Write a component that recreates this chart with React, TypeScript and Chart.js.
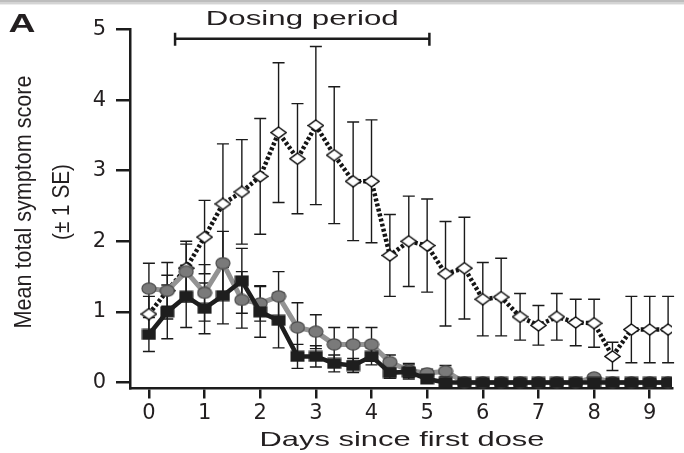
import React, { useEffect, useRef } from 'react';
import { Chart, registerables } from 'chart.js';

Chart.register(...registerables);

// ---- data ----
const days = [0, 0.33, 0.67, 1, 1.33, 1.67, 2, 2.33, 2.67, 3, 3.33, 3.67, 4, 4.33, 4.67, 5, 5.33, 5.67, 6, 6.33, 6.67, 7, 7.33, 7.67, 8, 8.33, 8.67, 9, 9.33];

const openDiamondMean = [0.97, 1.3, 1.62, 2.06, 2.53, 2.7, 2.92, 3.54, 3.17, 3.64, 3.22, 2.85, 2.85, 1.8, 2.0, 1.94, 1.54, 1.62, 1.18, 1.21, 0.93, 0.81, 0.93, 0.85, 0.84, 0.37, 0.75, 0.75, 0.75];
const openDiamondSE = [0.25, 0.22, 0.34, 0.52, 0.85, 0.74, 0.82, 0.99, 0.78, 1.12, 0.97, 0.84, 0.87, 0.58, 0.64, 0.66, 0.74, 0.72, 0.52, 0.55, 0.33, 0.28, 0.33, 0.33, 0.34, 0.2, 0.47, 0.47, 0.47];

const grayCircleMean = [1.33, 1.3, 1.57, 1.27, 1.69, 1.17, 1.12, 1.22, 0.78, 0.72, 0.54, 0.54, 0.54, 0.29, 0.17, 0.13, 0.16, 0, 0, 0, 0, 0, 0, 0, 0.07, 0, 0, 0, 0];
const grayCircleSE = [0.36, 0.4, 0.43, 0.4, 0.45, 0.4, 0.25, 0.35, 0.35, 0.24, 0.24, 0.24, 0.24, 0.1, 0.1, 0.06, 0.08, 0, 0, 0, 0, 0, 0, 0, 0.04, 0, 0, 0, 0];

const blackSquareMean = [0.68, 1.0, 1.22, 1.05, 1.23, 1.44, 1.0, 0.88, 0.37, 0.37, 0.27, 0.24, 0.37, 0.14, 0.15, 0.05, 0, 0, 0, 0, 0, 0, 0, 0, 0, 0, 0, 0, 0];
const blackSquareSE = [0.24, 0.38, 0.44, 0.36, 0.4, 0.46, 0.36, 0.39, 0.17, 0.15, 0.12, 0.1, 0.12, 0.08, 0.1, 0.04, 0, 0, 0, 0, 0, 0, 0, 0, 0, 0, 0, 0, 0];

const xTickValues = [0, 1, 2, 3, 4, 5, 6, 7, 8, 9];
const yTickValues = [0, 1, 2, 3, 4, 5];

const dosingPeriod = [0.47, 5.04];
const dosingLevel = 4.87;

const panelLabel = 'A';
const dosingLabel = 'Dosing period';
const xTitle = 'Days since first dose';
const yTitleLines = ['Mean total symptom score', '(± 1 SE)'];

// ---- styles ----
const INK = '#231f20';
const AXIS = '#1c1c1c';
const W = 684;
const H = 453;

function makeMarker(kind: string): HTMLCanvasElement {
  const c = document.createElement('canvas');
  if (kind === 'diamond') {
    c.width = 17; c.height = 13;
    const g = c.getContext('2d')!;
    g.beginPath();
    g.moveTo(8.5, 1); g.lineTo(16, 6.5); g.lineTo(8.5, 12); g.lineTo(1, 6.5); g.closePath();
    g.fillStyle = '#ffffff'; g.fill();
    g.lineWidth = 1.5; g.strokeStyle = '#111111'; g.stroke();
  } else if (kind === 'circle') {
    c.width = 16; c.height = 13;
    const g = c.getContext('2d')!;
    g.beginPath();
    g.ellipse(8, 6.5, 7, 5.6, 0, 0, Math.PI * 2);
    g.fillStyle = '#7a7a7a'; g.fill();
    g.lineWidth = 1.2; g.strokeStyle = '#4a4a4a'; g.stroke();
  } else {
    c.width = 15; c.height = 12;
    const g = c.getContext('2d')!;
    g.fillStyle = '#1e1e1e';
    g.fillRect(0.5, 0.5, 14, 11);
  }
  return c;
}

function fitText(ctx: CanvasRenderingContext2D, text: string, cx: number, cy: number, font: string, targetW: number, rotate = false) {
  ctx.save();
  ctx.font = font;
  ctx.fillStyle = INK;
  ctx.textAlign = 'center';
  ctx.textBaseline = 'middle';
  const w = ctx.measureText(text).width;
  const s = targetW / w;
  ctx.translate(cx, cy);
  if (rotate) ctx.rotate(-Math.PI / 2);
  ctx.scale(s, 1);
  ctx.fillText(text, 0, 0);
  ctx.restore();
}

const errorBarPlugin = {
  id: 'errorBars',
  beforeDatasetsDraw(chart: any) {
    const { ctx } = chart;
    const xs = chart.scales.x;
    const ys = chart.scales.y;
    ctx.save();
    ctx.strokeStyle = '#1a1a1a';
    ctx.lineWidth = 1.4;
    chart.data.datasets.forEach((ds: any) => {
      const se: number[] = ds.errors || [];
      ds.data.forEach((p: any, i: number) => {
        const e = se[i];
        if (!e) return;
        const px = xs.getPixelForValue(p.x);
        const top = ys.getPixelForValue(p.y + e);
        const bot = ys.getPixelForValue(p.y - e);
        const cap = 6;
        ctx.beginPath();
        ctx.moveTo(px, top); ctx.lineTo(px, bot);
        ctx.moveTo(px - cap, top); ctx.lineTo(px + cap, top);
        ctx.moveTo(px - cap, bot); ctx.lineTo(px + cap, bot);
        ctx.stroke();
      });
    });
    ctx.restore();
  },
};

const decorPlugin = {
  id: 'decor',
  beforeDraw(chart: any) {
    const { ctx } = chart;
    ctx.save();
    ctx.fillStyle = '#ffffff';
    ctx.fillRect(0, 0, W, H);
    ctx.fillStyle = '#bdbdbd';
    ctx.fillRect(0, 0, W, 2);
    ctx.fillStyle = '#d4d4d4';
    ctx.fillRect(0, 2, W, 2);
    ctx.fillStyle = '#ececec';
    ctx.fillRect(0, 4, W, 1);
    ctx.restore();
  },
  afterDraw(chart: any) {
    const { ctx } = chart;
    const xs = chart.scales.x;
    const ys = chart.scales.y;
    // panel label
    fitText(ctx, panelLabel, 22, 25, 'bold 25px "Liberation Sans", Arial, sans-serif', 27);
    // dosing bracket
    const x0 = xs.getPixelForValue(dosingPeriod[0]);
    const x1 = xs.getPixelForValue(dosingPeriod[1]);
    const yb = ys.getPixelForValue(dosingLevel);
    ctx.save();
    ctx.strokeStyle = AXIS;
    ctx.lineWidth = 2.5;
    ctx.beginPath();
    ctx.moveTo(x0, yb); ctx.lineTo(x1, yb);
    ctx.moveTo(x0, yb - 6); ctx.lineTo(x0, yb + 7);
    ctx.moveTo(x1, yb - 6); ctx.lineTo(x1, yb + 7);
    ctx.stroke();
    ctx.restore();
    fitText(ctx, dosingLabel, (x0 + x1) / 2, yb - 19, '21px "Liberation Sans", Arial, sans-serif', 193);
    // x title
    const area = chart.chartArea;
    fitText(ctx, xTitle, 402, area.bottom + 52, '21px "Liberation Sans", Arial, sans-serif', 285);
    // y title
    const cy = 202;
    fitText(ctx, yTitleLines[0], 24, cy, '24px "Liberation Sans", Arial, sans-serif', 253, true);
    fitText(ctx, yTitleLines[1], 62, cy, '24px "Liberation Sans", Arial, sans-serif', 76, true);
  },
};

export default function App() {
  const ref = useRef<HTMLCanvasElement | null>(null);

  useEffect(() => {
    if (!ref.current) return;
    const diamond = makeMarker('diamond');
    const circle = makeMarker('circle');
    const square = makeMarker('square');
    const pts = (vals: number[]) => days.map((d, i) => ({ x: d, y: vals[i] }));

    const tickFont = { family: '"DejaVu Sans", sans-serif', size: 21 };

    const chart = new Chart(ref.current, {
      type: 'line',
      data: {
        datasets: [
          {
            label: 'black squares',
            data: pts(blackSquareMean),
            errors: blackSquareSE,
            order: 0,
            borderColor: '#1e1e1e',
            borderWidth: 4.5,
            pointStyle: square,
            pointRadius: 7,
            tension: 0,
          } as any,
          {
            label: 'gray circles',
            data: pts(grayCircleMean),
            errors: grayCircleSE,
            order: 1,
            borderColor: '#939393',
            borderWidth: 5,
            pointStyle: circle,
            pointRadius: 7,
            tension: 0,
          } as any,
          {
            label: 'open diamonds',
            data: pts(openDiamondMean),
            errors: openDiamondSE,
            order: 2,
            borderColor: '#151515',
            borderWidth: 4.5,
            borderDash: [3, 2.2],
            borderCapStyle: 'butt',
            pointStyle: diamond,
            pointRadius: 7,
            tension: 0,
          } as any,
        ],
      },
      options: {
        animation: false,
        responsive: false,
        devicePixelRatio: 1,
        events: [],
        layout: { padding: { top: 29.5, right: 12, left: 0, bottom: 0 } },
        plugins: {
          legend: { display: false },
          tooltip: { enabled: false },
          title: { display: false },
        },
        scales: {
          x: {
            type: 'linear',
            min: -0.34,
            max: 9.4,
            afterBuildTicks: (s: any) => { s.ticks = xTickValues.map((v) => ({ value: v })); },
            afterFit: (s: any) => { s.height = 64.5; },
            grid: { display: true, drawOnChartArea: false, drawTicks: true, tickLength: 10, color: AXIS, lineWidth: 2.5 },
            border: { display: true, color: AXIS, width: 2.5 },
            ticks: { color: INK, font: tickFont, padding: 2, autoSkip: false, maxRotation: 0, callback: (v: any) => String(v) },
          },
          y: {
            type: 'linear',
            min: -0.085,
            max: 5,
            afterBuildTicks: (s: any) => { s.ticks = yTickValues.map((v) => ({ value: v })); },
            afterFit: (s: any) => { s.width = 130; },
            grid: { display: true, drawOnChartArea: false, drawTicks: true, tickLength: 14, color: AXIS, lineWidth: 2.5 },
            border: { display: true, color: AXIS, width: 2.5 },
            ticks: { color: INK, font: tickFont, padding: 10, callback: (v: any) => String(v) },
          },
        },
      } as any,
      plugins: [decorPlugin, errorBarPlugin],
    });
    return () => chart.destroy();
  }, []);

  return (
    <div style={{ position: 'fixed', left: 0, top: 0, width: W, height: H, background: '#fff' }}>
      <canvas ref={ref} width={W} height={H} style={{ display: 'block', width: W, height: H }} />
    </div>
  );
}
